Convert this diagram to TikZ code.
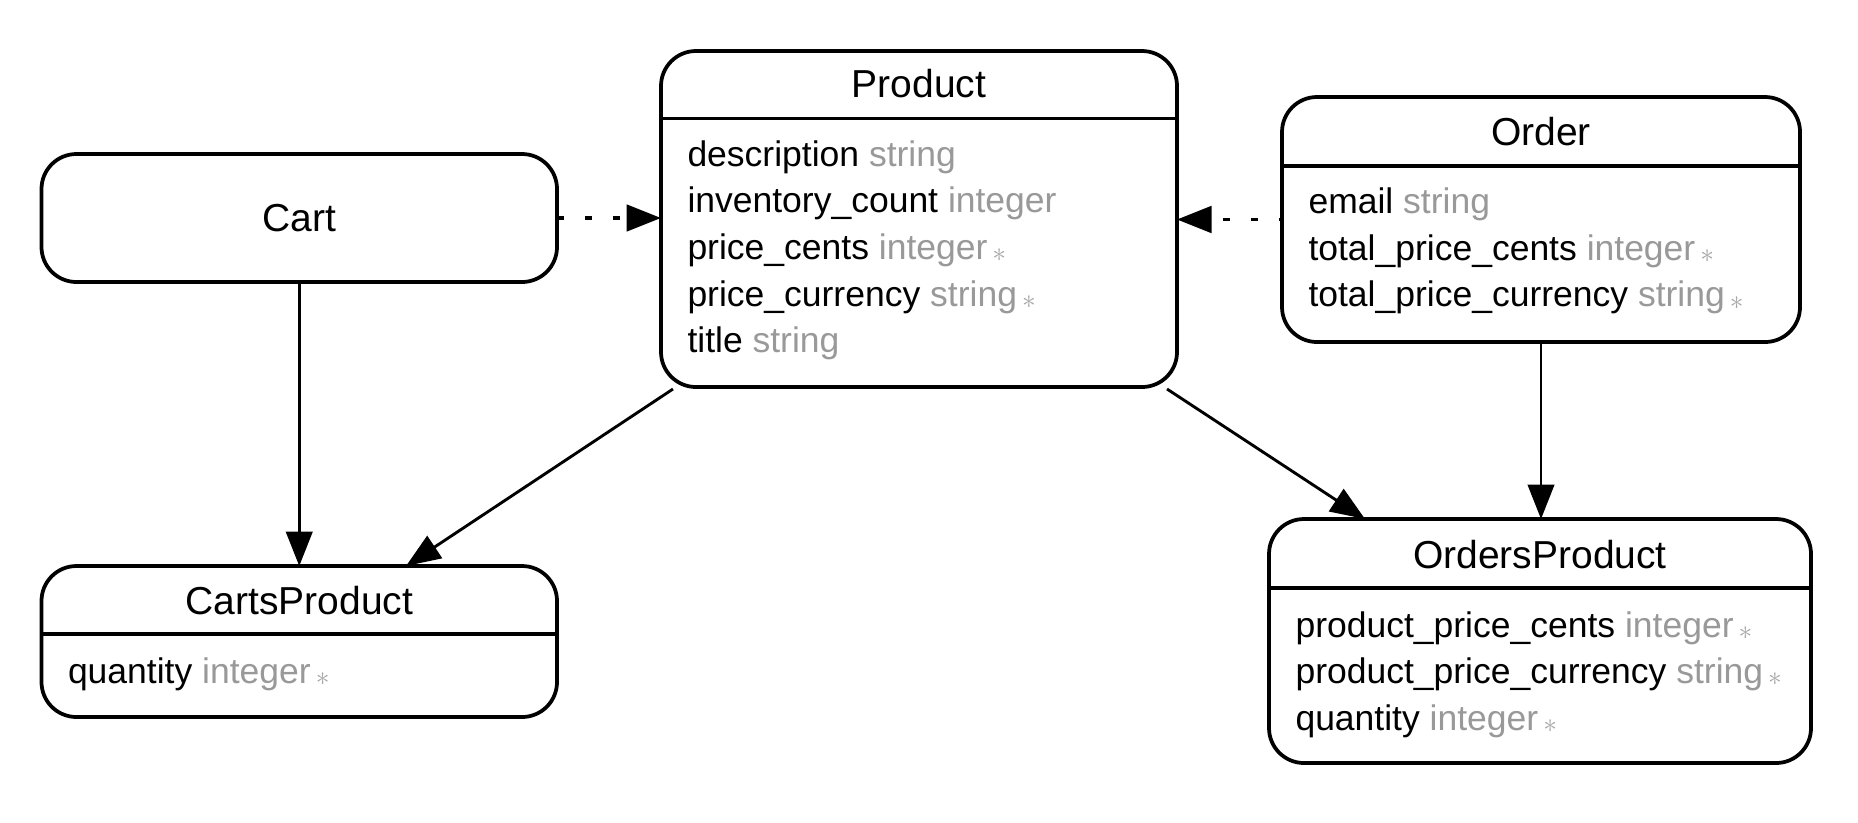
\documentclass[tikz,border=0pt]{standalone}
\usepackage{fontspec}
\setmainfont{Liberation Sans}
\usetikzlibrary{arrows.meta}
\definecolor{typegray}{HTML}{999999}
\definecolor{stargray}{HTML}{A6A6A6}
\newcommand{\ty}[1]{\textcolor{typegray}{#1}}
\newcommand{\req}{\hspace{2pt}\textcolor{stargray}{\fontsize{11}{11}\selectfont\raisebox{-0.9pt}{$\ast$}}}
\begin{document}
\begin{tikzpicture}[x=0.4pt,y=-0.4pt,
  box/.style={draw, line width=1.5pt, rounded corners=14pt, inner sep=0pt, outer sep=0pt},
  sep/.style={line width=1.5pt},
  title/.style={font=\fontsize{15.6}{18}\selectfont, inner sep=0pt},
  attr/.style={font=\fontsize{14.2}{17}\selectfont, inner sep=0pt, anchor=base west},
  edge/.style={line width=1.15pt, -{Triangle[length=13.8pt,width=10.6pt]}},
  dotedge/.style={edge, line width=1.4pt, dash pattern=on 2.8pt off 8.4pt}]
\useasboundingbox (0,0) rectangle (1858,822);
\fill[white] (0,0) rectangle (1858,822);

% boxes
\node[box, minimum width=206.2pt, minimum height=51.2pt] (cart) at (299.25,218) {};
\node[box, minimum width=206.4pt, minimum height=134.4pt] (product) at (919,219) {};
\node[box, minimum width=207.2pt, minimum height=98pt] (order) at (1541,219.5) {};
\node[box, minimum width=206.2pt, minimum height=60.4pt] (cartsp) at (299.25,641.5) {};
\node[box, minimum width=216.8pt, minimum height=97.6pt] (ordersp) at (1540,641) {};

% header separators
\draw[sep] (product.west |- 0,118.5) -- (product.east |- 0,118.5);
\draw[sep] (order.west |- 0,166) -- (order.east |- 0,166);
\draw[sep] (cartsp.west |- 0,634) -- (cartsp.east |- 0,634);
\draw[sep] (ordersp.west |- 0,588) -- (ordersp.east |- 0,588);

% titles
\node[title] (cartT) at (cart.center) {Cart};
\node[title, anchor=base] (productT) at (919,97.5) {Product};
\node[title, anchor=base] (orderT) at (1541,145) {Order};
\node[title, anchor=base] (cartspT) at (299.25,614) {CartsProduct};
\node[title, anchor=base] (orderspT) at (1540,568) {OrdersProduct};

% attributes
\node[attr] (p1) at (687,166) {description \ty{string}};
\node[attr] (p2) at (687,212.7) {inventory\_count \ty{integer}};
\node[attr] (p3) at (687,259.4) {price\_cents \ty{integer}\req};
\node[attr] (p4) at (687,306.1) {price\_currency \ty{string}\req};
\node[attr] (p5) at (687,352.8) {title \ty{string}};

\node[attr] (o1) at (1308,213.5) {email \ty{string}};
\node[attr] (o2) at (1308,260.2) {total\_price\_cents \ty{integer}\req};
\node[attr] (o3) at (1308,306.9) {total\_price\_currency \ty{string}\req};

\node[attr] (c1) at (67.5,683) {quantity \ty{integer}\req};

\node[attr] (op1) at (1295,637) {product\_price\_cents \ty{integer}\req};
\node[attr] (op2) at (1295,683.7) {product\_price\_currency \ty{string}\req};
\node[attr] (op3) at (1295,730.4) {quantity \ty{integer}\req};

% connectors
\draw[dotedge] (cart.east) -- (cart.east -| product.west);
\draw[dotedge, dash phase=1.5pt] (order.west) -- (order.west -| product.east);
\draw[edge] (cart.south) -- (cartsp.north);
\draw[edge] (order.south) -- (order.south |- ordersp.north);
\draw[edge] ([xshift=4.8pt,yshift=-0.8pt]product.south west) -- ([xshift=42.7pt]cartsp.north);
\draw[edge] ([xshift=-4pt,yshift=-0.8pt]product.south east) -- ([xshift=-70pt]ordersp.north);
\end{tikzpicture}
\end{document}
